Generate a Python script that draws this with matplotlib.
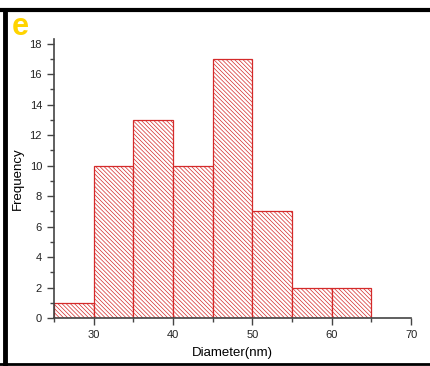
import matplotlib.pyplot as plt
from matplotlib.ticker import MultipleLocator
from matplotlib.lines import Line2D

plt.rcParams['font.family'] = ['Liberation Sans', 'DejaVu Sans']
plt.rcParams['hatch.linewidth'] = 0.5

bin_edges = [25, 30, 35, 40, 45, 50, 55, 60, 65]
counts = [1, 10, 13, 10, 17, 7, 2, 2]

fig = plt.figure(figsize=(4.31, 3.66), dpi=100)
ax = fig.add_axes([0.125, 0.131, 0.829, 0.762])

red = '#d42a2a'
widths = [bin_edges[i + 1] - bin_edges[i] for i in range(len(counts))]
ax.bar(bin_edges[:-1], counts, width=widths, align='edge', color='white',
       edgecolor=red, linewidth=0.9, hatch='\\' * 8)

ax.set_xlim(25, 70)
ax.set_ylim(0, 18.3)
ax.xaxis.set_minor_locator(MultipleLocator(5))
ax.yaxis.set_major_locator(MultipleLocator(2))
ax.yaxis.set_minor_locator(MultipleLocator(1))
ax.set_xticks([30, 40, 50, 60, 70])
ax.spines['top'].set_visible(False)
ax.spines['right'].set_visible(False)
for s in ('left', 'bottom'):
    ax.spines[s].set_color('#444444')
    ax.spines[s].set_linewidth(1.2)
ax.tick_params(which='major', direction='out', length=5, width=1, colors='#444444',
               labelsize=8, labelcolor='#222222')
ax.tick_params(which='minor', direction='out', length=3, width=1, colors='#444444')
ax.set_xlabel('Diameter(nm)', fontsize=9.5, labelpad=5)
ax.set_ylabel('Frequency', fontsize=9.5, labelpad=4)

fig.text(0.028, 0.905, 'e', color='#ffd400', fontsize=22, fontweight='bold')

# outer black frame
fig.add_artist(Line2D([0, 1], [0.973, 0.973], transform=fig.transFigure, color='black', lw=3))
fig.add_artist(Line2D([0.011, 0.011], [0, 0.973], transform=fig.transFigure, color='black', lw=3.5))
fig.add_artist(Line2D([0, 1], [0.006, 0.006], transform=fig.transFigure, color='black', lw=2))

fig.savefig('out.png', dpi=100)
